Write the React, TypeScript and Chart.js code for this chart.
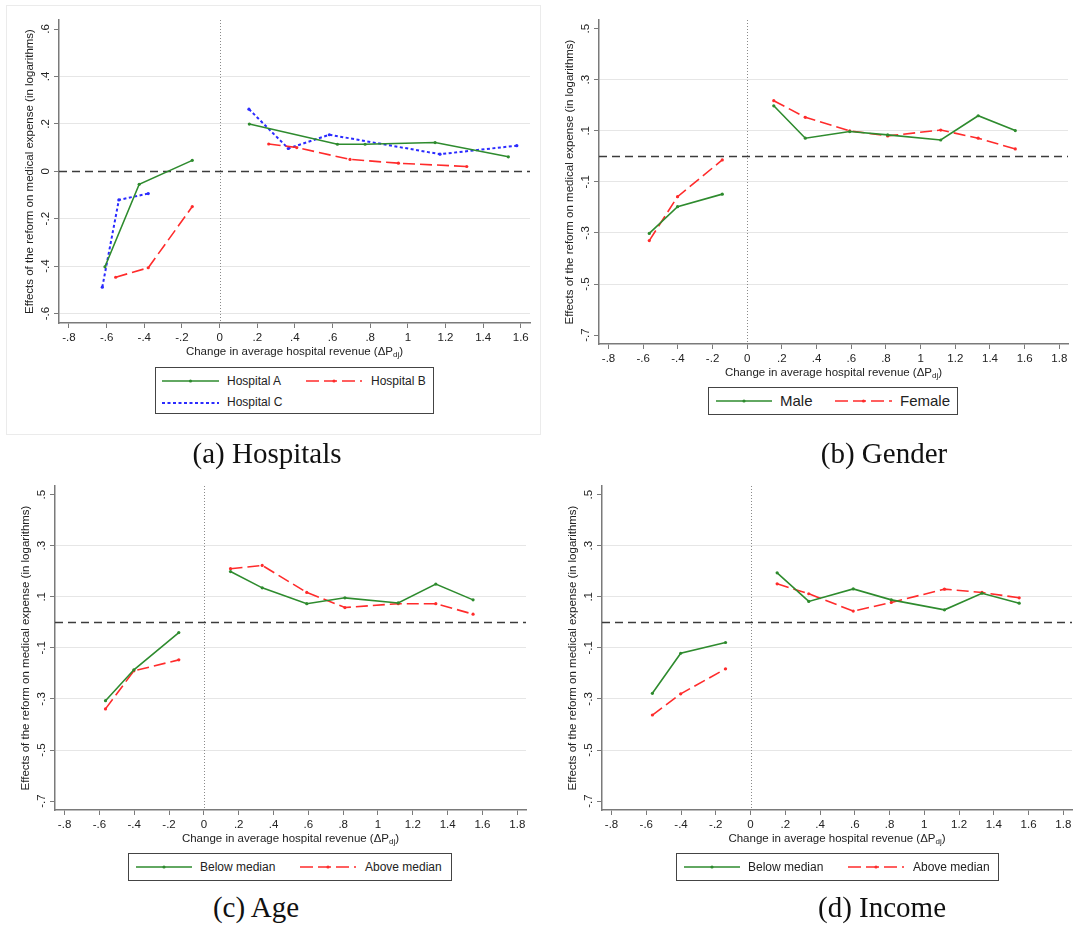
import React, { useEffect, useRef } from "react";
import { Chart, registerables } from "chart.js";
Chart.register(...registerables);

// ---------- Panel (a) Hospitals ----------
const hospitalXTicks = [-0.8, -0.6, -0.4, -0.2, 0, 0.2, 0.4, 0.6, 0.8, 1, 1.2, 1.4, 1.6];
const hospitalYTicks = [-0.6, -0.4, -0.2, 0, 0.2, 0.4, 0.6];
const hospitalAX = [-0.609, -0.427, -0.145, 0.158, 0.626, 0.773, 1.145, 1.534];
const hospitalAY = [-0.403, -0.055, 0.046, 0.199, 0.114, 0.114, 0.121, 0.061];
const hospitalBX = [-0.552, -0.379, -0.145, 0.261, 0.41, 0.693, 0.95, 1.313];
const hospitalBY = [-0.447, -0.407, -0.149, 0.115, 0.1, 0.05, 0.034, 0.02];
const hospitalCX = [-0.623, -0.535, -0.379, 0.156, 0.365, 0.583, 1.171, 1.579];
const hospitalCY = [-0.489, -0.121, -0.094, 0.262, 0.096, 0.154, 0.072, 0.108];

// ---------- Panels (b)-(d) ----------
const groupXTicks = [-0.8, -0.6, -0.4, -0.2, 0, 0.2, 0.4, 0.6, 0.8, 1, 1.2, 1.4, 1.6, 1.8];
const groupYTicks = [-0.7, -0.5, -0.3, -0.1, 0.1, 0.3, 0.5];
const groupX = [-0.565, -0.402, -0.144, 0.153, 0.335, 0.591, 0.81, 1.116, 1.332, 1.546];
const maleY = [-0.302, -0.197, -0.148, 0.198, 0.071, 0.097, 0.084, 0.064, 0.159, 0.101];
const femaleY = [-0.33, -0.158, -0.014, 0.218, 0.153, 0.1, 0.08, 0.103, 0.071, 0.029];
const ageBelowY = [-0.307, -0.186, -0.04, 0.199, 0.135, 0.073, 0.096, 0.076, 0.15, 0.088];
const ageAboveY = [-0.339, -0.19, -0.147, 0.21, 0.223, 0.117, 0.058, 0.073, 0.073, 0.032];
const incomeBelowY = [-0.278, -0.121, -0.079, 0.194, 0.082, 0.131, 0.088, 0.049, 0.114, 0.075];
const incomeAboveY = [-0.363, -0.28, -0.182, 0.151, 0.112, 0.044, 0.078, 0.13, 0.117, 0.096];

// reference lines
const refX = [0];
const refY = [0];

const FONT = "'Liberation Sans', Arial, Helvetica, sans-serif";
const GREEN = "#2e8b2e";
const RED = "#ff2b2b";
const BLUE = "#2b2bff";
const TICK_FS = 11.5;
const TITLE_FS = 11.5;

const fmt = (v: number) => {
  const r = Math.round(v * 10) / 10;
  let s = String(r);
  s = s.replace(/^0\./, ".").replace(/^-0\./, "-.");
  return s;
};

type Series = { xs: number[]; ys: number[]; color: string; dash: number[]; width: number };
type PanelProps = {
  left: number; top: number; width: number; height: number;
  area: { l: number; t: number; r: number; b: number };
  xRange: [number, number]; yRange: [number, number];
  xTicks: number[]; yTicks: number[]; hiddenGrid: number[];
  series: Series[];
};

const buildData = (xs: number[], ys: number[]) => {
  const pts: { x: number; y: number | null }[] = [];
  for (let i = 0; i < xs.length; i++) {
    if (i > 0 && xs[i - 1] < 0 && xs[i] > 0) pts.push({ x: 0, y: null });
    pts.push({ x: xs[i], y: ys[i] });
  }
  return pts;
};

function Panel(p: PanelProps) {
  const ref = useRef<HTMLCanvasElement | null>(null);
  useEffect(() => {
    if (!ref.current) return;
    const xH = 50;
    const padTop = p.area.t - p.top;
    const padRight = p.left + p.width - p.area.r;
    const yW = p.area.l - p.left;
    const padBottom = p.top + p.height - p.area.b - xH;
    const decor = {
      id: "decor",
      beforeDatasetsDraw(chart: any) {
        const { ctx, chartArea } = chart;
        const xs = chart.scales.x, ys = chart.scales.y;
        ctx.save();
        refX.forEach((v) => {
          const px = Math.round(xs.getPixelForValue(v)) + 0.5;
          ctx.strokeStyle = "#8a8a8a";
          ctx.lineWidth = 1;
          ctx.setLineDash([1, 2]);
          ctx.beginPath();
          ctx.moveTo(px, chartArea.top);
          ctx.lineTo(px, chartArea.bottom);
          ctx.stroke();
        });
        refY.forEach((v) => {
          const py = Math.round(ys.getPixelForValue(v)) + 0.5;
          ctx.strokeStyle = "#3c3c3c";
          ctx.lineWidth = 1.3;
          ctx.setLineDash([8, 5]);
          ctx.beginPath();
          ctx.moveTo(chartArea.left, py);
          ctx.lineTo(chartArea.right, py);
          ctx.stroke();
        });
        ctx.restore();
      },
      afterDraw(chart: any) {
        const { ctx, chartArea } = chart;
        const ys = chart.scales.y;
        ctx.save();
        ctx.fillStyle = "#222";
        ctx.font = `${TICK_FS}px ${FONT}`;
        // rotated y tick labels
        p.yTicks.forEach((v) => {
          const py = ys.getPixelForValue(v);
          ctx.save();
          ctx.translate(chartArea.left - 10, py);
          ctx.rotate(-Math.PI / 2);
          ctx.textAlign = "center";
          ctx.textBaseline = "alphabetic";
          ctx.fillText(fmt(v), 0, 0);
          ctx.restore();
        });
        // y title
        ctx.font = `${TITLE_FS}px ${FONT}`;
        ctx.save();
        ctx.translate(chartArea.left - 29, (chartArea.top + chartArea.bottom) / 2);
        ctx.rotate(-Math.PI / 2);
        ctx.textAlign = "center";
        ctx.textBaseline = "middle";
        ctx.fillText("Effects of the reform on medical expense (in logarithms)", 0, 0);
        ctx.restore();
        // x title with subscript
        const main = "Change in average hospital revenue (ΔP";
        const sub = "dj";
        const close = ")";
        ctx.font = `${TITLE_FS}px ${FONT}`;
        const wMain = ctx.measureText(main).width;
        const wClose = ctx.measureText(close).width;
        ctx.font = `8px ${FONT}`;
        const wSub = ctx.measureText(sub).width;
        const total = wMain + wSub + wClose;
        const x0 = (chartArea.left + chartArea.right) / 2 - total / 2;
        const y0 = chartArea.bottom + 28.5;
        ctx.textAlign = "left";
        ctx.textBaseline = "middle";
        ctx.font = `${TITLE_FS}px ${FONT}`;
        ctx.fillText(main, x0, y0);
        ctx.font = `8px ${FONT}`;
        ctx.fillText(sub, x0 + wMain, y0 + 3.5);
        ctx.font = `${TITLE_FS}px ${FONT}`;
        ctx.fillText(close, x0 + wMain + wSub, y0);
        ctx.restore();
      },
    };
    const chart = new Chart(ref.current, {
      type: "line",
      data: {
        datasets: p.series.map((s) => ({
          data: buildData(s.xs, s.ys),
          borderColor: s.color,
          backgroundColor: s.color,
          borderWidth: s.width,
          borderDash: s.dash,
          pointRadius: 1.6,
          pointBorderWidth: 0,
          pointBackgroundColor: s.color,
          spanGaps: false,
          fill: false,
          tension: 0,
        })),
      },
      options: {
        responsive: false,
        animation: false,
        devicePixelRatio: 1,
        layout: { padding: { left: 0, right: padRight, top: padTop, bottom: padBottom } },
        plugins: { legend: { display: false }, tooltip: { enabled: false } },
        scales: {
          x: {
            type: "linear",
            min: p.xRange[0],
            max: p.xRange[1],
            afterBuildTicks: (s: any) => { s.ticks = p.xTicks.map((v) => ({ value: v })); },
            afterFit: (s: any) => { s.height = xH; },
            ticks: {
              autoSkip: false, maxRotation: 0, minRotation: 0, padding: 2.5,
              color: "#222", font: { family: FONT, size: TICK_FS },
              callback: (v: any) => fmt(Number(v)),
            },
            grid: { display: true, drawOnChartArea: false, drawTicks: true, tickLength: 5, tickColor: "#7a7a7a", tickWidth: 1 },
            border: { display: true, color: "#7a7a7a", width: 1.5 },
          },
          y: {
            type: "linear",
            min: p.yRange[0],
            max: p.yRange[1],
            afterBuildTicks: (s: any) => { s.ticks = p.yTicks.map((v) => ({ value: v })); },
            afterFit: (s: any) => { s.width = yW; },
            ticks: { display: false },
            grid: {
              display: true, drawOnChartArea: true, drawTicks: true, tickLength: 5,
              tickColor: "#7a7a7a", tickWidth: 1, lineWidth: 1,
              color: (c: any) => {
                const v = c.tick ? Math.round(c.tick.value * 10) / 10 : NaN;
                return p.hiddenGrid.includes(v) ? "rgba(0,0,0,0)" : "#e6e6e6";
              },
            },
            border: { display: true, color: "#7a7a7a", width: 1.5 },
          },
        },
      },
      plugins: [decor],
    } as any);
    return () => chart.destroy();
  }, []);
  return (
    <canvas
      ref={ref}
      width={p.width}
      height={p.height}
      style={{ position: "absolute", left: p.left, top: p.top, width: p.width, height: p.height }}
    />
  );
}

type LegendItem = { label: string; color: string; dash: string; sx: number; sw: number; y: number; tx: number };
function Legend(props: { left: number; top: number; width: number; height: number; fontSize: number; items: LegendItem[] }) {
  return (
    <div
      style={{
        position: "absolute", left: props.left, top: props.top, width: props.width, height: props.height,
        border: "1.5px solid #444", boxSizing: "border-box", background: "#fff",
        fontFamily: FONT, fontSize: props.fontSize, color: "#222",
      }}
    >
      {props.items.map((it, i) => (
        <React.Fragment key={i}>
          <svg style={{ position: "absolute", left: it.sx, top: it.y - 4 }} width={it.sw} height={8}>
            <line x1={0} y1={4} x2={it.sw} y2={4} stroke={it.color} strokeWidth={it.dash === "3 2.5" ? 2 : 1.6} strokeDasharray={it.dash} />
            {it.dash !== "3 2.5" && <circle cx={it.sw / 2} cy={4} r={1.6} fill={it.color} />}
          </svg>
          <div style={{ position: "absolute", left: it.tx, top: it.y - props.fontSize * 0.62, lineHeight: 1.2, whiteSpace: "nowrap" }}>
            {it.label}
          </div>
        </React.Fragment>
      ))}
    </div>
  );
}

function Caption(props: { cx: number; cy: number; text: string }) {
  return (
    <div
      style={{
        position: "absolute", left: props.cx - 150, top: props.cy - 17, width: 300, height: 34,
        textAlign: "center", lineHeight: "34px", fontFamily: "'Liberation Serif', 'Times New Roman', serif",
        fontSize: 29, color: "#111",
      }}
    >
      {props.text}
    </div>
  );
}

export default function App() {
  const groupRange: [number, number] = [-0.855, 1.85];
  const groupY: [number, number] = [-0.735, 0.534];
  return (
    <div style={{ position: "absolute", left: 0, top: 0, width: 1076, height: 938, background: "#fff", overflow: "hidden" }}>
      <div style={{ position: "absolute", left: 6, top: 5, width: 535, height: 430, border: "1px solid #ebebeb", boxSizing: "border-box" }} />
      <Panel
        left={0} top={0} width={540} height={440}
        area={{ l: 59, t: 20, r: 530, b: 323 }}
        xRange={[-0.853, 1.649]} yRange={[-0.64, 0.638]}
        xTicks={hospitalXTicks} yTicks={hospitalYTicks} hiddenGrid={[0.6, 0]}
        series={[
          { xs: hospitalAX, ys: hospitalAY, color: GREEN, dash: [], width: 1.6 },
          { xs: hospitalBX, ys: hospitalBY, color: RED, dash: [12, 5], width: 1.6 },
          { xs: hospitalCX, ys: hospitalCY, color: BLUE, dash: [3, 2.5], width: 2 },
        ]}
      />
      <Panel
        left={540} top={0} width={536} height={440}
        area={{ l: 599, t: 20, r: 1068, b: 344 }}
        xRange={groupRange} yRange={groupY}
        xTicks={groupXTicks} yTicks={groupYTicks} hiddenGrid={[0.5, -0.7]}
        series={[
          { xs: groupX, ys: maleY, color: GREEN, dash: [], width: 1.6 },
          { xs: groupX, ys: femaleY, color: RED, dash: [12, 5], width: 1.6 },
        ]}
      />
      <Panel
        left={0} top={470} width={540} height={420}
        area={{ l: 55, t: 486, r: 526, b: 810 }}
        xRange={groupRange} yRange={groupY}
        xTicks={groupXTicks} yTicks={groupYTicks} hiddenGrid={[0.5, -0.7]}
        series={[
          { xs: groupX, ys: ageBelowY, color: GREEN, dash: [], width: 1.6 },
          { xs: groupX, ys: ageAboveY, color: RED, dash: [12, 5], width: 1.6 },
        ]}
      />
      <Panel
        left={540} top={470} width={536} height={420}
        area={{ l: 602, t: 486, r: 1072, b: 810 }}
        xRange={groupRange} yRange={groupY}
        xTicks={groupXTicks} yTicks={groupYTicks} hiddenGrid={[0.5, -0.7]}
        series={[
          { xs: groupX, ys: incomeBelowY, color: GREEN, dash: [], width: 1.6 },
          { xs: groupX, ys: incomeAboveY, color: RED, dash: [12, 5], width: 1.6 },
        ]}
      />
      <Legend
        left={155} top={367} width={279} height={47} fontSize={12}
        items={[
          { label: "Hospital A", color: GREEN, dash: "", sx: 6, sw: 57, y: 13, tx: 71 },
          { label: "Hospital B", color: RED, dash: "13 5", sx: 150, sw: 56, y: 13, tx: 215 },
          { label: "Hospital C", color: BLUE, dash: "3 2.5", sx: 6, sw: 57, y: 34.5, tx: 71 },
        ]}
      />
      <Legend
        left={708} top={387} width={250} height={28} fontSize={15}
        items={[
          { label: "Male", color: GREEN, dash: "", sx: 7, sw: 56, y: 13, tx: 71 },
          { label: "Female", color: RED, dash: "13 5", sx: 126, sw: 57, y: 13, tx: 191 },
        ]}
      />
      <Legend
        left={128} top={853} width={324} height={28} fontSize={12}
        items={[
          { label: "Below median", color: GREEN, dash: "", sx: 7, sw: 56, y: 13, tx: 71 },
          { label: "Above median", color: RED, dash: "13 5", sx: 171, sw: 56, y: 13, tx: 236 },
        ]}
      />
      <Legend
        left={676} top={853} width={323} height={28} fontSize={12}
        items={[
          { label: "Below median", color: GREEN, dash: "", sx: 7, sw: 56, y: 13, tx: 71 },
          { label: "Above median", color: RED, dash: "13 5", sx: 171, sw: 56, y: 13, tx: 236 },
        ]}
      />
      <Caption cx={267} cy={453} text="(a) Hospitals" />
      <Caption cx={884} cy={453} text="(b) Gender" />
      <Caption cx={256} cy={907} text="(c) Age" />
      <Caption cx={882} cy={907} text="(d) Income" />
    </div>
  );
}
